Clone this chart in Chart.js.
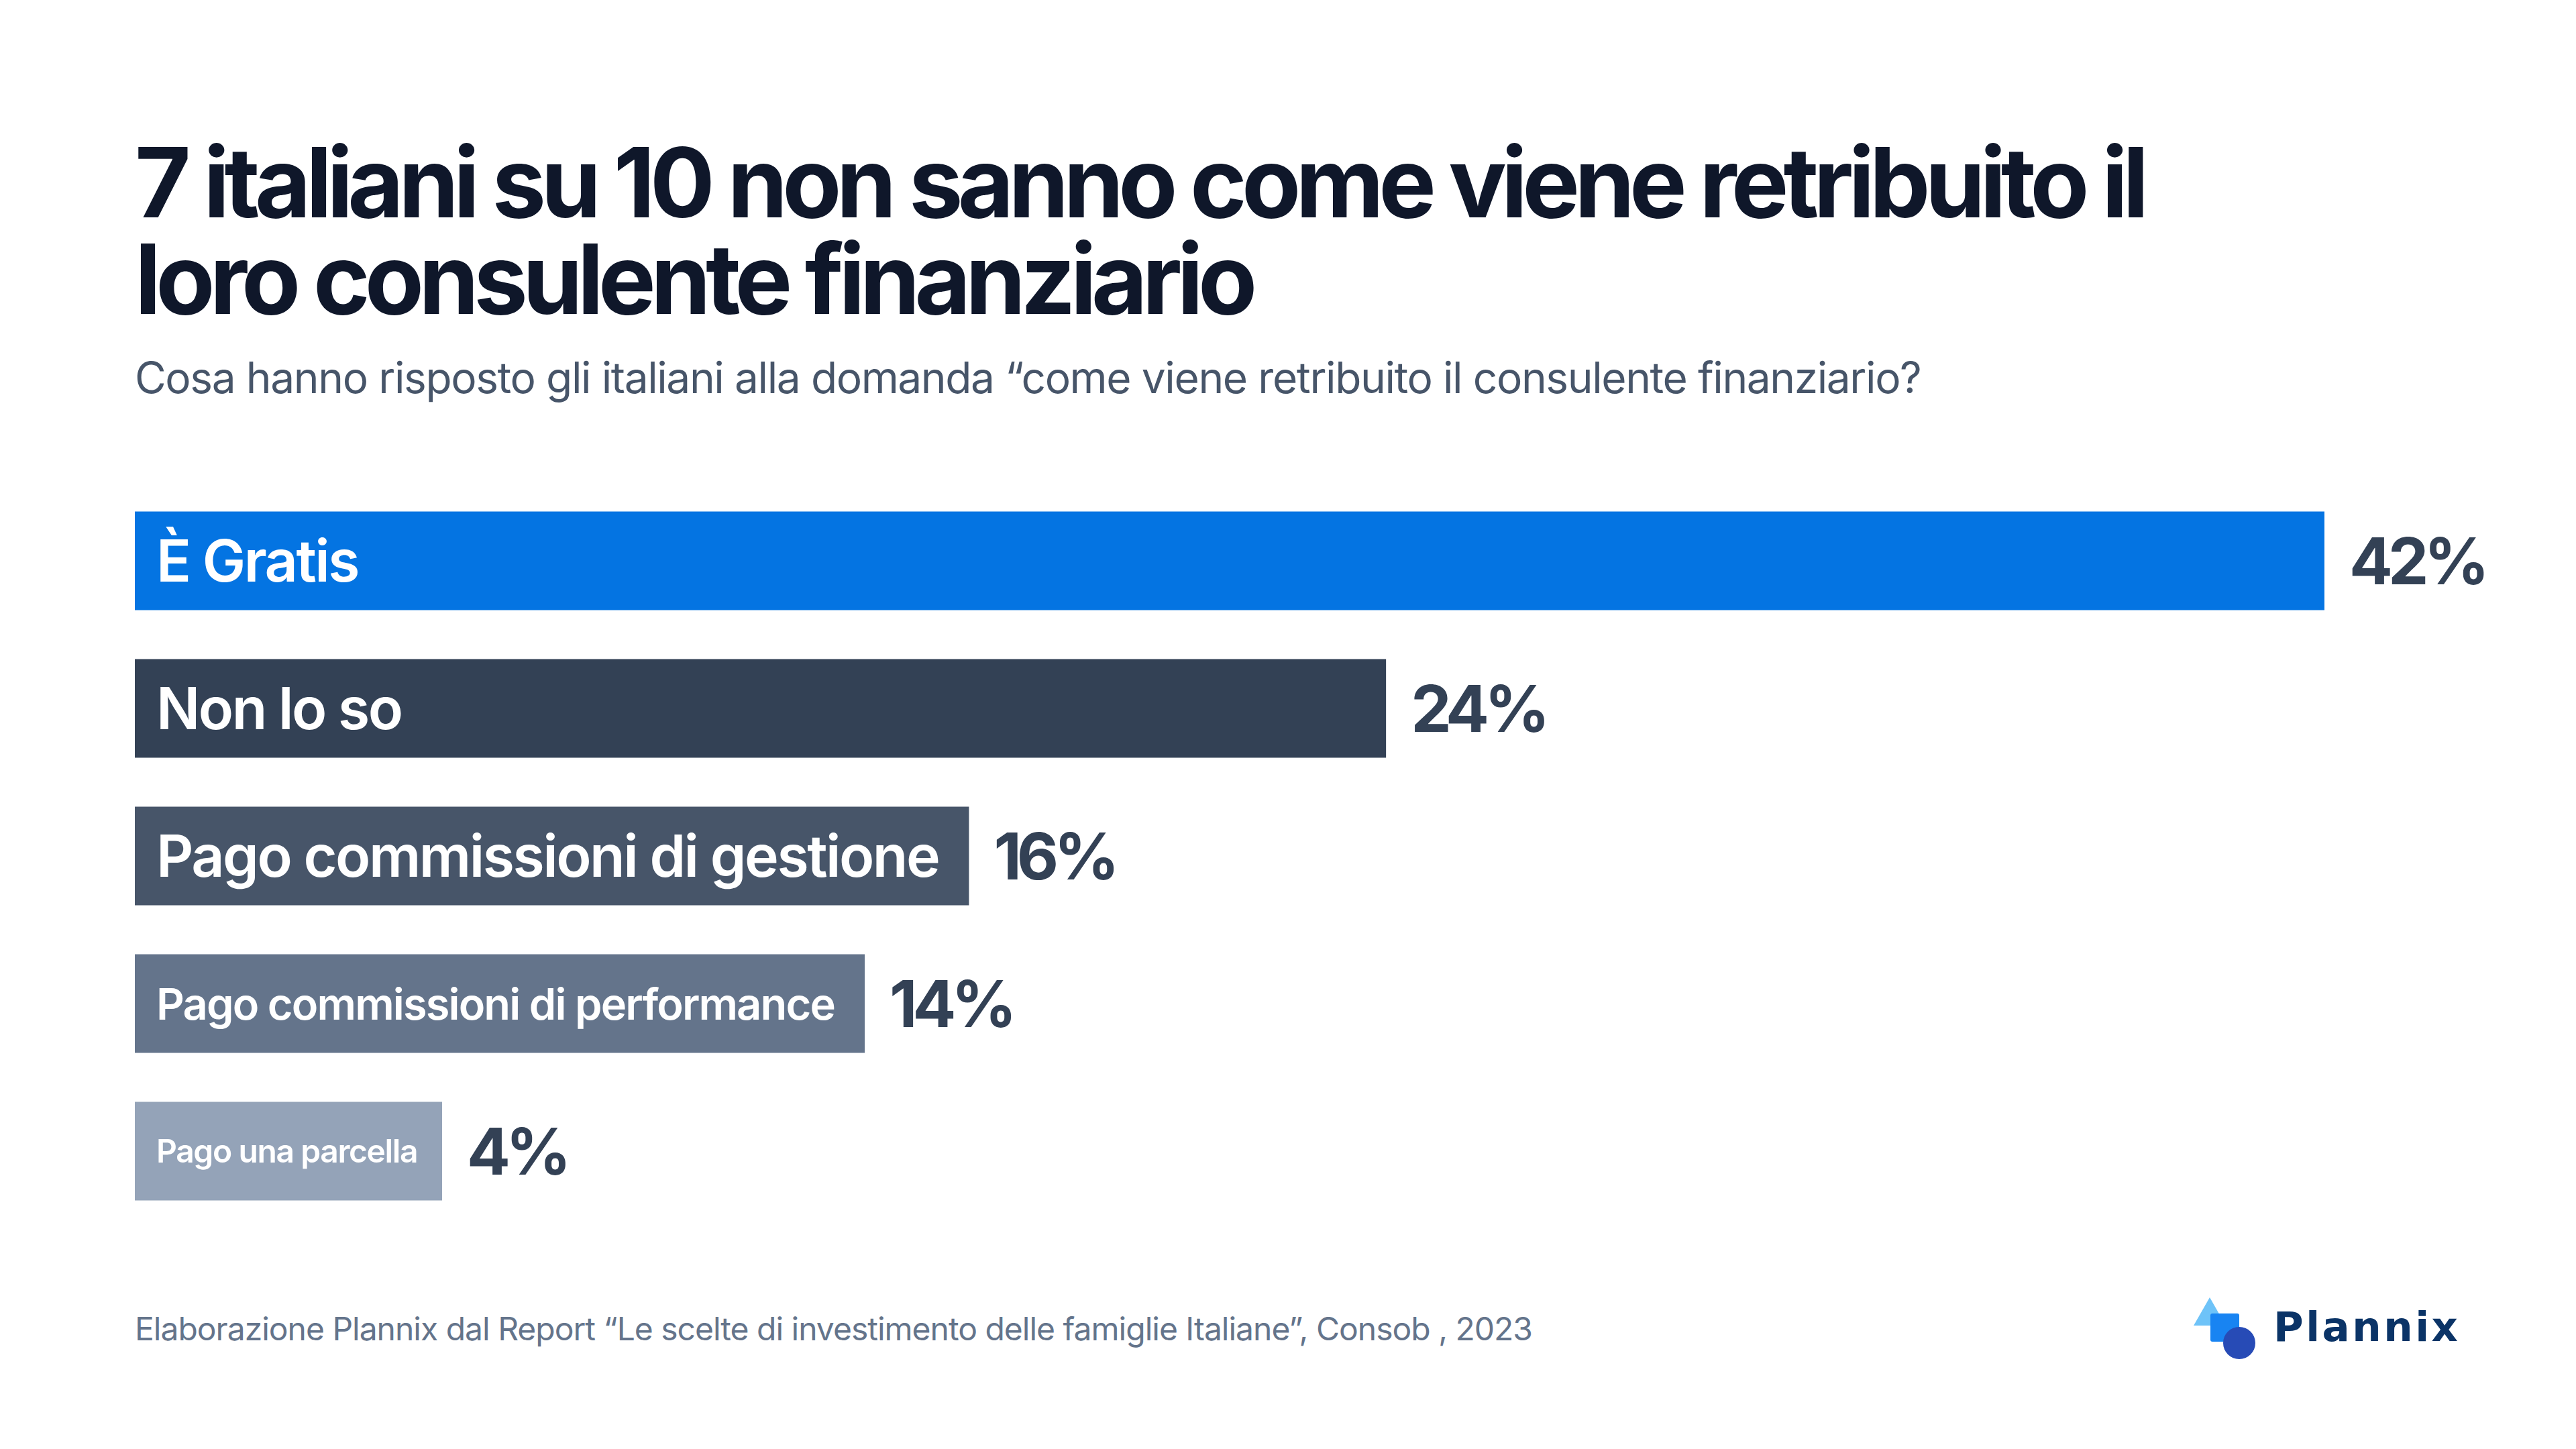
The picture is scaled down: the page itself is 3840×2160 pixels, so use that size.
<!DOCTYPE html>
<html lang="it">
<head>
<meta charset="utf-8">
<title>Retribuzione consulente finanziario</title>
<script src="https://cdn.jsdelivr.net/npm/chart.js@4.4.1/dist/chart.umd.min.js"></script>
<style>
  html, body { margin: 0; padding: 0; background: #ffffff; }
  body { width: 3840px; height: 2160px; position: relative; overflow: hidden; font-family: Inter, "Noto Sans", sans-serif; }
  #title { position: absolute; left: 201px; top: 200px; font-size: 144px; line-height: 144px; font-weight: 700; color: #0F172A; letter-spacing: -7.8px; white-space: nowrap; }
  #subtitle { position: absolute; left: 201px; top: 531px; font-size: 64px; line-height: 64px; font-weight: 400; color: #475569; letter-spacing: -1.4px; white-space: nowrap; }
  #source { position: absolute; left: 201px; top: 1957px; font-size: 48px; line-height: 48px; color: #64748B; letter-spacing: -1px; white-space: nowrap; }
  #chart { position: absolute; left: 0; top: 726px; }
  #logo { position: absolute; left: 3270px; top: 1934px; width: 440px; height: 100px; }
  .tri { position: absolute; left: 0; top: 0; width: 0; height: 0; border-left: 24px solid transparent; border-right: 24px solid transparent; border-bottom: 42px solid #6EC3F8; }
  .sq { position: absolute; left: 25px; top: 24px; width: 43px; height: 42px; background: #1884F2; border-radius: 3px; }
  .ci { position: absolute; left: 44px; top: 44px; width: 48px; height: 48px; border-radius: 50%; background: #274BB6; }
  .brand { position: absolute; left: 119px; top: 8px; font-family: "DejaVu Sans", sans-serif; font-weight: 700; font-size: 61px; line-height: 72px; color: #0B3467; letter-spacing: 3.5px; }
</style>
</head>
<body>
<div id="title">7 italiani su 10 non sanno come viene retribuito il<br>loro consulente finanziario</div>
<div id="subtitle">Cosa hanno risposto gli italiani alla domanda “come viene retribuito il consulente finanziario?</div>
<canvas id="chart" width="3840" height="1100"></canvas>
<div id="source">Elaborazione Plannix dal Report “Le scelte di investimento delle famiglie Italiane”, Consob , 2023</div>
<div id="logo"><div class="tri"></div><div class="sq"></div><div class="ci"></div><div class="brand">Plannix</div></div>
<script>
var categories = ['È Gratis', 'Non lo so', 'Pago commissioni di gestione', 'Pago commissioni di performance', 'Pago una parcella'];
var values = [42, 24, 16, 14, 4];
var barColors = ['#0474E2', '#334155', '#475569', '#64748B', '#94A3B8'];

function setLabelFont(ctx, size) {
    ctx.letterSpacing = (-2.5 * size / 86).toFixed(2) + 'px';
    ctx.font = '600 ' + size + 'px Inter';
}

// etichette dentro le barre + percentuale a destra
var barLabels = {
    id: 'barLabels',
    afterDatasetsDraw: function (chart) {
        var ctx = chart.ctx;
        var meta = chart.getDatasetMeta(0);
        ctx.save();
        meta.data.forEach(function (bar, i) {
            var left = bar.base;
            var right = bar.x;
            var room = right - left - 62;
            var size = 86;
            setLabelFont(ctx, size);
            var w = ctx.measureText(categories[i]).width;
            if (w > room) {
                size = Math.floor(size * room / w);
                setLabelFont(ctx, size);
            }
            ctx.fillStyle = '#ffffff';
            ctx.textAlign = 'left';
            ctx.textBaseline = 'alphabetic';
            ctx.fillText(categories[i], left + 32, bar.y + size * 0.364);

            ctx.letterSpacing = '-7px';
            ctx.font = '700 96px Inter';
            ctx.fillStyle = '#334155';
            ctx.fillText(values[i] + '%', right + 37, bar.y + 96 * 0.364);
        });
        ctx.restore();
    }
};

var barChart = new Chart(document.getElementById('chart'), {
    type: 'bar',
    data: {
        labels: categories,
        datasets: [{
            data: values,
            backgroundColor: barColors,
            borderWidth: 0,
            barPercentage: 0.668,
            categoryPercentage: 1,
            minBarLength: 458
        }]
    },
    options: {
        indexAxis: 'y',
        responsive: false,
        devicePixelRatio: 1,
        animation: false,
        layout: { padding: { left: 201, right: 375, top: 0, bottom: 0 } },
        scales: {
            x: { display: false, min: 0, max: 42 },
            y: { display: false }
        },
        plugins: {
            legend: { display: false },
            tooltip: { enabled: false }
        }
    },
    plugins: [barLabels]
});
</script>
</body>
</html>
